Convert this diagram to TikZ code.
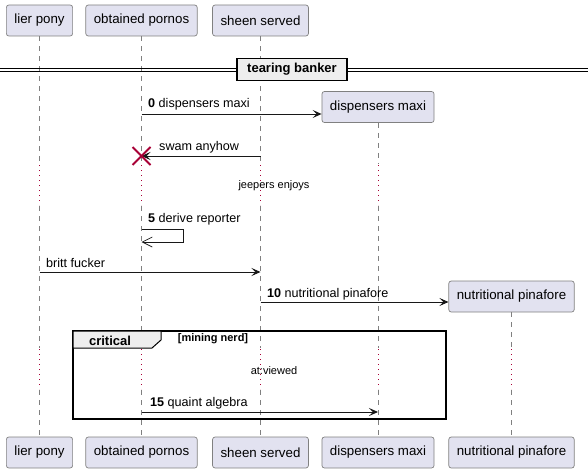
\documentclass[tikz,border=0pt]{standalone}
\usepackage{fontspec}
\setmainfont{Liberation Sans}
\usetikzlibrary{arrows.meta}

\definecolor{partfill}{HTML}{E2E2F0}
\definecolor{partline}{HTML}{181818}
\definecolor{delayred}{HTML}{A80036}
\definecolor{tabgray}{HTML}{EEEEEE}

\tikzset{
    part/.style={draw=black!50, fill=partfill, line width=0.7pt, rounded corners=2.5pt,
        minimum height=31pt, inner xsep=8pt, font=\fontsize{13.3}{16}\selectfont},
    life/.style={draw=black!50, line width=0.7pt, dash pattern=on 5pt off 5pt},
    delay/.style={draw=delayred, line width=0.9pt, dash pattern=on 1pt off 4pt},
    msg/.style={draw=partline, line width=0.9pt, -{Stealth[length=9pt,width=8pt,inset=4pt]}},
    selfmsg/.style={draw=partline, line width=0.7pt, -{Straight Barb[length=10pt,width=10pt]}},
    lbl/.style={anchor=west, inner sep=0pt, font=\fontsize{12.6}{15}\selectfont},
    note/.style={inner sep=0pt, font=\fontsize{11}{13}\selectfont},
}

\begin{document}
\begin{tikzpicture}[x=1pt, y=-1pt]
    \useasboundingbox (0,0) rectangle (588,473);

    % Participants, top and bottom
    \node[part] (lp-top) at (39.5,20.5) {lier pony};
    \node[part] (op-top) at (141.5,20.5) {obtained pornos};
    \node[part] (ss-top) at (260.5,20.5) {sheen served};
    \node[part] (dm-top) at (378,107) {dispensers maxi};
    \node[part] (np-top) at (511.5,296.5) {nutritional pinafore};

    \node[part] (lp-bot) at (39.5,452.5) {lier pony};
    \node[part] (op-bot) at (141.5,452.5) {obtained pornos};
    \node[part] (ss-bot) at (260.5,452.5) {sheen served};
    \node[part] (dm-bot) at (378,452.5) {dispensers maxi};
    \node[part] (np-bot) at (511.5,452.5) {nutritional pinafore};

    % Lifelines, dotted where the delays are
    \foreach \p in {lp,op,ss} {
        \draw[life] (\p-top.south) -- (\p-top |- 0,164);
        \draw[delay] (\p-top |- 0,165) -- (\p-top |- 0,205);
        \draw[life] (\p-top |- 0,206) -- (\p-top |- 0,348);
    }
    \draw[life] (dm-top.south) -- (dm-top |- 0,164);
    \draw[delay] (dm-top |- 0,165) -- (dm-top |- 0,205);
    \draw[life] (dm-top |- 0,206) -- (dm-top |- 0,348);
    \draw[life] (np-top.south) -- (np-top |- 0,348);
    \foreach \p in {lp,op,ss,dm,np} {
        \draw[delay] (\p-top |- 0,349) -- (\p-top |- 0,389);
        \draw[life] (\p-top |- 0,390) -- (\p-bot.north);
    }

    % Divider
    \draw[line width=0.9pt] (0,68) -- (588,68);
    \draw[line width=0.9pt] (0,71.5) -- (588,71.5);
    \node[draw, fill=tabgray, line width=1.4pt, minimum width=110pt, minimum height=22pt,
        font=\bfseries\fontsize{13}{15}\selectfont] (div) at (292,69.5) {tearing banker};

    % Messages
    \draw[msg] (op-top |- 0,114) -- (dm-top.west |- 0,114);
    \node[lbl] at (148,104) {\textbf{0} dispensers maxi};

    \draw[msg] (ss-top |- 0,156) -- (op-top |- 0,156);
    \node[lbl] at (159,147) {swam anyhow};
    \draw[delayred, line width=2pt] (op-top |- 0,156) ++(-9,-9) -- ++(18,18);
    \draw[delayred, line width=2pt] (op-top |- 0,156) ++(-9,9) -- ++(18,-18);

    \node[note] (d1) at (274,186) {jeepers enjoys};

    \draw[selfmsg] (op-top |- 0,229) -- ++(42,0) |- (op-top |- 0,242);
    \node[lbl] at (148,219) {\textbf{5} derive reporter};

    \draw[msg] (lp-top |- 0,272) -- (ss-top |- 0,272);
    \node[lbl] at (46,263) {britt fucker};

    \draw[msg] (ss-top |- 0,302) -- (np-top.west |- 0,302);
    \node[lbl] at (267,294) {\textbf{10} nutritional pinafore};

    % Critical group
    \draw[line width=1.5pt] (73,331) rectangle (446,419);
    \draw[fill=tabgray, line width=1pt] (73,331) -- (161,331) -- (161,340) -- (152,348) -- (73,348) -- cycle;
    \node[inner sep=0pt, font=\bfseries\fontsize{13}{15}\selectfont] (grp) at (110,341) {critical};
    \node[inner sep=0pt, font=\bfseries\fontsize{11}{13}\selectfont] (cond) at (213,339) {[mining nerd]};

    \node[note] (d2) at (274,371) {at:viewed};

    \draw[msg] (op-top |- 0,412) -- (dm-top |- 0,412);
    \node[lbl] at (150,403) {\textbf{15} quaint algebra};
\end{tikzpicture}
\end{document}
